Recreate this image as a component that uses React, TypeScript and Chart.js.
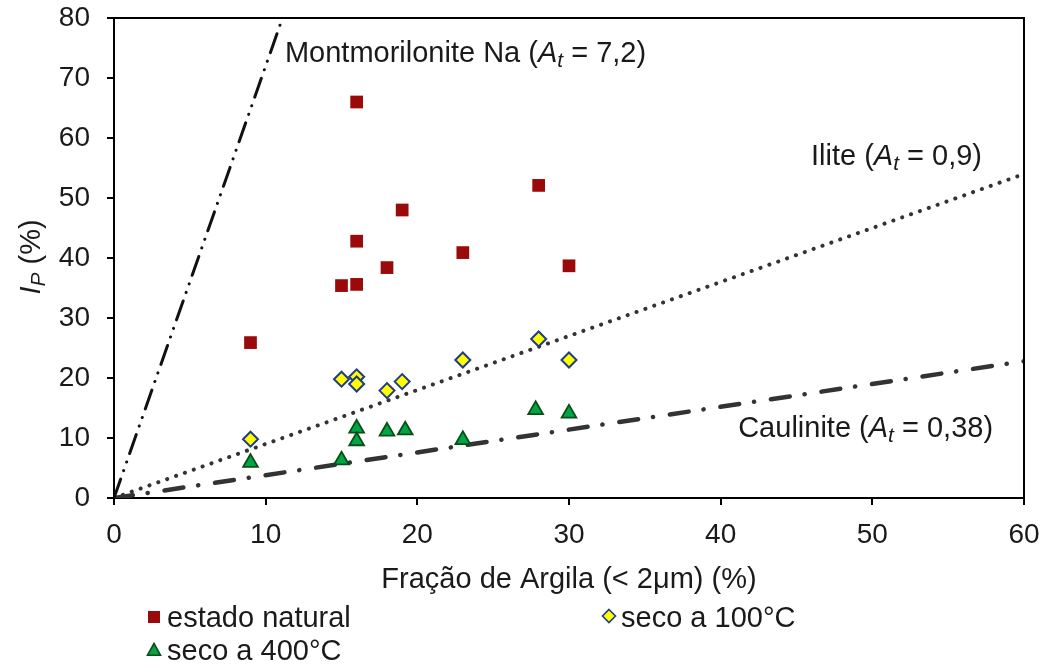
import React, { useEffect, useRef } from "react";
import { Chart, registerables } from "chart.js";

Chart.register(...registerables);

// ---- data ----
const naturalX = [9, 15, 16, 16, 16, 18, 19, 23, 28, 30];
const naturalY = [25.9, 35.4, 35.6, 42.8, 66, 38.4, 48, 40.9, 52.1, 38.7];

const dry100X = [9, 15, 16, 16, 18, 19, 23, 28, 30];
const dry100Y = [9.8, 19.8, 20.2, 19.0, 17.9, 19.4, 23, 26.5, 23];

const dry400X = [9, 15, 16, 16, 18, 19.2, 23, 27.8, 30];
const dry400Y = [5.9, 6.3, 11.6, 9.5, 11.1, 11.3, 9.7, 14.7, 14.1];

// activity reference lines (A_t = Ip / clay fraction), endpoints
const montLineX = [0, 11.11];
const montLineY = [0, 80];
const iliteLineX = [0, 60];
const iliteLineY = [0, 54];
const caulLineX = [0, 60];
const caulLineY = [0, 22.8];

const xTicks = [0, 10, 20, 30, 40, 50, 60];
const yTicks = [0, 10, 20, 30, 40, 50, 60, 70, 80];

const seriesLabels = ["estado natural", "seco a 100°C", "seco a 400°C"];
const lineLabels = [
  { name: "Montmorilonite Na (", value: " = 7,2)" },
  { name: "Ilite (", value: " = 0,9)" },
  { name: "Caulinite (", value: " = 0,38)" },
];
const xTitle = "Fração de Argila (< 2μm) (%)";

const FONT = '"Liberation Sans", Arial, sans-serif';
const TEXT = "#1a1a1a";
const LABEL_SIZE = 29;
const TICK_SIZE = 28;

const pts = (xs: number[], ys: number[]) => xs.map((x, i) => ({ x, y: ys[i] }));

type Part = { t: string; italic?: boolean; sub?: boolean };

// draws text with baseline at y
function drawRich(
  ctx: CanvasRenderingContext2D,
  parts: Part[],
  x: number,
  y: number,
  align: "left" | "right" | "center",
  size: number
) {
  const fontFor = (p: Part) =>
    `${p.italic ? "italic " : ""}${p.sub ? Math.round(size * 0.72) : size}px ${FONT}`;
  let total = 0;
  const widths = parts.map((p) => {
    ctx.font = fontFor(p);
    const w = ctx.measureText(p.t).width;
    total += w;
    return w;
  });
  let cx = align === "left" ? x : align === "right" ? x - total : x - total / 2;
  ctx.textAlign = "left";
  ctx.textBaseline = "alphabetic";
  parts.forEach((p, i) => {
    ctx.font = fontFor(p);
    ctx.fillText(p.t, cx, p.sub ? y + size * 0.16 : y);
    cx += widths[i];
  });
}

function drawMarker(ctx: CanvasRenderingContext2D, kind: string, x: number, y: number, r: number) {
  ctx.save();
  ctx.beginPath();
  if (kind === "rect") {
    ctx.fillStyle = "#9b0a0a";
    ctx.fillRect(x - r, y - r, 2 * r, 2 * r);
  } else if (kind === "diamond") {
    ctx.moveTo(x, y - r);
    ctx.lineTo(x + r, y);
    ctx.lineTo(x, y + r);
    ctx.lineTo(x - r, y);
    ctx.closePath();
    ctx.fillStyle = "#ffff00";
    ctx.fill();
    ctx.lineWidth = 1.6;
    ctx.strokeStyle = "#1f3c88";
    ctx.stroke();
  } else {
    ctx.moveTo(x, y - r);
    ctx.lineTo(x + r, y + r * 0.8);
    ctx.lineTo(x - r, y + r * 0.8);
    ctx.closePath();
    ctx.fillStyle = "#00a548";
    ctx.fill();
    ctx.lineWidth = 1.6;
    ctx.strokeStyle = "#0b4d16";
    ctx.stroke();
  }
  ctx.restore();
}

const atParts = (i: number): Part[] => [
  { t: lineLabels[i].name },
  { t: "A", italic: true },
  { t: "t", italic: true, sub: true },
  { t: lineLabels[i].value },
];

const decorPlugin = {
  id: "decor",
  afterDraw(chart: any) {
    const ctx: CanvasRenderingContext2D = chart.ctx;
    const { left, right, top, bottom } = chart.chartArea;
    const xs = chart.scales.x;
    const ys = chart.scales.y;
    ctx.save();
    // frame
    ctx.strokeStyle = "#000";
    ctx.lineWidth = 2;
    ctx.beginPath();
    ctx.moveTo(left, top);
    ctx.lineTo(right, top);
    ctx.lineTo(right, bottom);
    ctx.stroke();

    ctx.fillStyle = TEXT;
    // line annotations (anchored in data coordinates)
    drawRich(ctx, atParts(0), xs.getPixelForValue(11.27), ys.getPixelForValue(72.67), "left", LABEL_SIZE);
    drawRich(ctx, atParts(1), xs.getPixelForValue(57.23), ys.getPixelForValue(55.5), "right", LABEL_SIZE);
    drawRich(ctx, atParts(2), xs.getPixelForValue(57.96), ys.getPixelForValue(10.17), "right", LABEL_SIZE);

    // axis titles
    drawRich(ctx, [{ t: xTitle }], (left + right) / 2, 588, "center", LABEL_SIZE);
    ctx.save();
    ctx.translate(40, 257);
    ctx.rotate(-Math.PI / 2);
    drawRich(ctx, [{ t: "I", italic: true }, { t: "P", italic: true, sub: true }, { t: " (%)" }], 0, 0, "center", LABEL_SIZE);
    ctx.restore();

    // legend
    drawMarker(ctx, "rect", 154, 617, 6);
    drawRich(ctx, [{ t: seriesLabels[0] }], 167, 627, "left", LABEL_SIZE);
    drawMarker(ctx, "diamond", 609, 616, 6.5);
    drawRich(ctx, [{ t: seriesLabels[1] }], 621, 627, "left", LABEL_SIZE);
    drawMarker(ctx, "triangle", 154, 650, 6.5);
    drawRich(ctx, [{ t: seriesLabels[2] }], 167, 660, "left", LABEL_SIZE);
    ctx.restore();
  },
};

export default function App() {
  const ref = useRef<HTMLCanvasElement | null>(null);
  useEffect(() => {
    if (!ref.current) return;
    const lineBase = { type: "line", showLine: true, pointRadius: 0, fill: false, borderColor: "#333", order: 10, borderCapStyle: "round" };
    const chart = new Chart(ref.current, {
      type: "scatter",
      data: {
        datasets: [
          {
            label: seriesLabels[0],
            data: pts(naturalX, naturalY),
            pointStyle: "rect",
            pointRadius: 9,
            backgroundColor: "#9b0a0a",
            borderColor: "#9b0a0a",
            borderWidth: 0,
            order: 1,
          },
          {
            label: seriesLabels[1],
            data: pts(dry100X, dry100Y),
            pointStyle: "rectRot",
            pointRadius: 7.5,
            backgroundColor: "#ffff00",
            borderColor: "#1f3c88",
            borderWidth: 2,
            order: 1,
          },
          {
            label: seriesLabels[2],
            data: pts(dry400X, dry400Y),
            pointStyle: "triangle",
            pointRadius: 8.5,
            backgroundColor: "#00a548",
            borderColor: "#0b4d16",
            borderWidth: 1.8,
            order: 1,
          },
          {
            ...lineBase,
            label: "Montmorilonite",
            data: pts(montLineX, montLineY),
            borderWidth: 3,
            borderColor: "#111",
            borderDash: [20, 9, 0.1, 9, 0.1, 9],
          },
          {
            ...lineBase,
            label: "Ilite",
            data: pts(iliteLineX, iliteLineY),
            borderWidth: 4,
            borderDash: [0.1, 9.3],
          },
          {
            ...lineBase,
            label: "Caulinite",
            data: pts(caulLineX, caulLineY),
            borderWidth: 4.5,
            borderDash: [19, 15, 0.1, 17],
          },
        ] as any,
      },
      options: {
        responsive: true,
        maintainAspectRatio: false,
        animation: false,
        layout: { padding: { left: 0, right: 23, top: 18, bottom: 0 } },
        plugins: { legend: { display: false }, tooltip: { enabled: false } },
        scales: {
          x: {
            type: "linear",
            min: 0,
            max: 60,
            afterFit: (s: any) => {
              s.height = 169;
              s.paddingLeft = 0;
              s.paddingRight = 0;
            },
            afterBuildTicks: (s: any) => {
              s.ticks = xTicks.map((v) => ({ value: v }));
            },
            border: { display: true, color: "#000", width: 2 },
            grid: { drawOnChartArea: false, drawTicks: true, tickLength: 7, color: "#000", lineWidth: 2 },
            ticks: { color: TEXT, font: { family: FONT, size: TICK_SIZE }, padding: 13, maxRotation: 0 },
          },
          y: {
            type: "linear",
            min: 0,
            max: 80,
            afterFit: (s: any) => {
              s.width = 114;
              s.paddingTop = 0;
              s.paddingBottom = 0;
            },
            afterBuildTicks: (s: any) => {
              s.ticks = yTicks.map((v) => ({ value: v }));
            },
            border: { display: true, color: "#000", width: 2 },
            grid: { drawOnChartArea: false, drawTicks: true, tickLength: 7, color: "#000", lineWidth: 2 },
            ticks: { color: TEXT, font: { family: FONT, size: TICK_SIZE }, padding: 17 },
          },
        },
      } as any,
      plugins: [decorPlugin],
    });
    return () => chart.destroy();
  }, []);
  return (
    <div style={{ position: "absolute", left: 0, top: 0, width: 1047, height: 667, background: "#fff" }}>
      <canvas ref={ref} />
    </div>
  );
}
